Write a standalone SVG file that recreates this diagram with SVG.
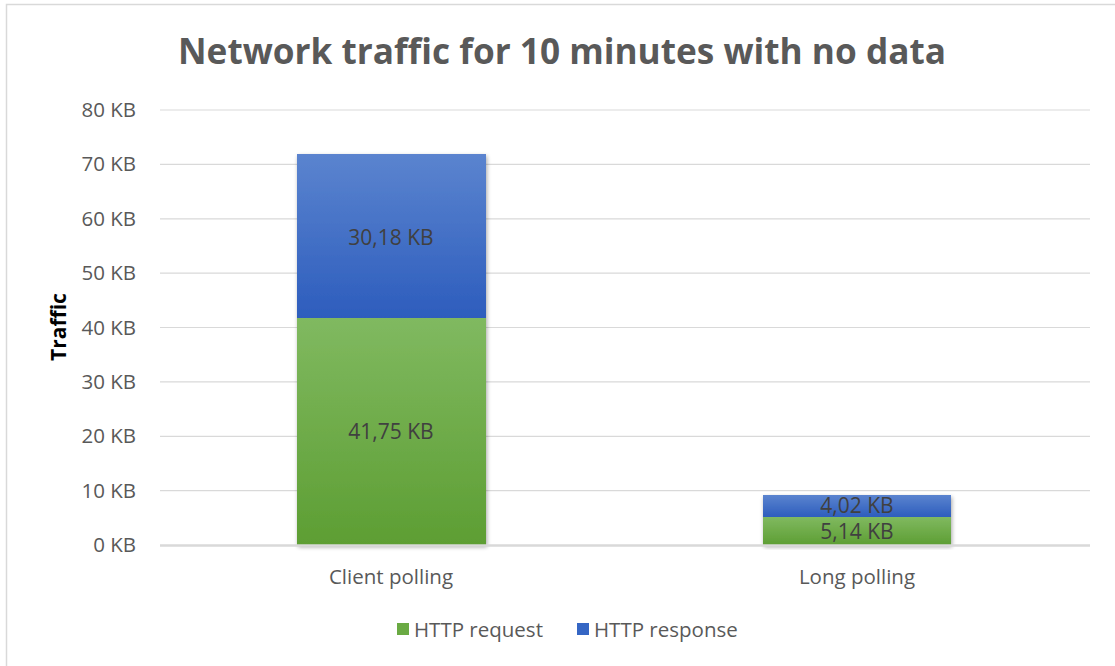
<svg xmlns="http://www.w3.org/2000/svg" width="1115" height="666" viewBox="0 0 1115 666">
<defs>
<linearGradient id="gBlue" x1="0" y1="0" x2="0" y2="1">
<stop offset="0" stop-color="#5b84cf"/><stop offset="1" stop-color="#2d5dbd"/>
</linearGradient>
<linearGradient id="gGreen" x1="0" y1="0" x2="0" y2="1">
<stop offset="0" stop-color="#80b960"/><stop offset="1" stop-color="#5d9e33"/>
</linearGradient>
<filter id="sh" x="-10%" y="-10%" width="120%" height="120%">
<feGaussianBlur in="SourceAlpha" stdDeviation="2"/>
<feOffset dx="1" dy="2"/>
<feComponentTransfer><feFuncA type="linear" slope="0.35"/></feComponentTransfer>
<feMerge><feMergeNode/><feMergeNode in="SourceGraphic"/></feMerge>
</filter>
<style>
.t{font-family:"Open Sans","Liberation Sans",sans-serif;fill:#595959}
.ax{font-size:20.5px;text-anchor:end}
.cat{font-size:20.5px;text-anchor:middle}
.lbl{font-family:"Open Sans","Liberation Sans",sans-serif;fill:#404040;font-size:21px;text-anchor:middle}
.grid{stroke:#d9d9d9;stroke-width:1.2}
</style>
</defs>
<rect x="0" y="0" width="1115" height="666" fill="#fff"/>
<path d="M6.5 666 V4.5 H1115" fill="none" stroke="#d9d9d9" stroke-width="1.5"/>
<text x="562" y="64" class="t" font-size="36" font-weight="bold" text-anchor="middle" textLength="768" lengthAdjust="spacingAndGlyphs">Network traffic for 10 minutes with no data</text>
<g id="grid">
<line class="grid" x1="160" y1="110" x2="1090" y2="110"/>
<line class="grid" x1="160" y1="164.4" x2="1090" y2="164.4"/>
<line class="grid" x1="160" y1="218.8" x2="1090" y2="218.8"/>
<line class="grid" x1="160" y1="273.1" x2="1090" y2="273.1"/>
<line class="grid" x1="160" y1="327.5" x2="1090" y2="327.5"/>
<line class="grid" x1="160" y1="381.9" x2="1090" y2="381.9"/>
<line class="grid" x1="160" y1="436.3" x2="1090" y2="436.3"/>
<line class="grid" x1="160" y1="490.6" x2="1090" y2="490.6"/>
</g>
<g id="yaxis">
<text class="t ax" x="136" y="117">80 KB</text>
<text class="t ax" x="136" y="171.4">70 KB</text>
<text class="t ax" x="136" y="225.8">60 KB</text>
<text class="t ax" x="136" y="280.1">50 KB</text>
<text class="t ax" x="136" y="334.5">40 KB</text>
<text class="t ax" x="136" y="388.9">30 KB</text>
<text class="t ax" x="136" y="443.3">20 KB</text>
<text class="t ax" x="136" y="497.6">10 KB</text>
<text class="t ax" x="136" y="552">0 KB</text>
<text x="0" y="0" transform="translate(66 327) rotate(-90)" font-family="Open Sans, Liberation Sans, sans-serif" font-size="21" font-weight="bold" fill="#000" text-anchor="middle">Traffic</text>
</g>
<g id="client-polling" filter="url(#sh)">
<rect x="297" y="154" width="189" height="164" fill="url(#gBlue)"/>
<rect x="297" y="318" width="189" height="227" fill="url(#gGreen)"/>
</g>
<g id="long-polling" filter="url(#sh)">
<rect x="763" y="495" width="188" height="22" fill="url(#gBlue)"/>
<rect x="763" y="517" width="188" height="28" fill="url(#gGreen)"/>
</g>
<line x1="160" y1="545.5" x2="1090" y2="545.5" stroke="#d9d9d9" stroke-width="2.5"/>
<g id="labels">
<text class="lbl" x="391" y="245">30,18 KB</text>
<text class="lbl" x="391" y="439">41,75 KB</text>
<text class="lbl" x="857" y="513">4,02 KB</text>
<text class="lbl" x="857" y="539">5,14 KB</text>
</g>
<g id="categories">
<text class="t cat" x="391" y="584">Client polling</text>
<text class="t cat" x="857" y="584">Long polling</text>
</g>
<g id="legend">
<rect x="397" y="623" width="12" height="12" fill="#6aaa43"/>
<text class="t" x="414" y="637" font-size="20.5">HTTP request</text>
<rect x="577" y="623" width="12" height="12" fill="#3566c4"/>
<text class="t" x="594" y="637" font-size="20.5">HTTP response</text>
</g>
</svg>
